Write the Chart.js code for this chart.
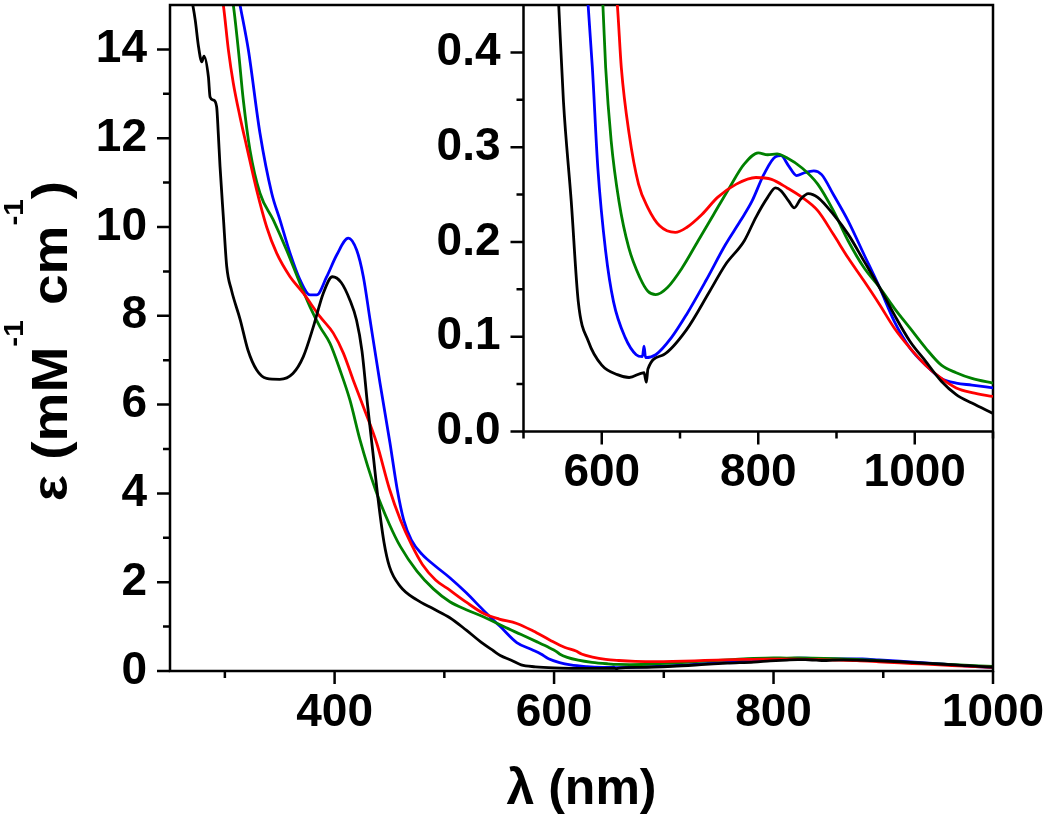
<!DOCTYPE html>
<html><head><meta charset="utf-8">
<script src="https://cdn.jsdelivr.net/npm/chart.js@4/dist/chart.umd.min.js"></script>
<style>
html,body{margin:0;padding:0;background:#fff;}
#wrap{position:relative;width:1050px;height:817px;overflow:hidden;}
#main{position:absolute;left:0;top:0;}
#inset{position:absolute;left:400px;top:0;}
</style></head><body>
<div id="wrap"><canvas id="main" width="1050" height="817"></canvas><canvas id="inset" width="650" height="500"></canvas></div>
<script>
// ---------- data (wavelength nm, epsilon mM^-1 cm^-1) ----------
const blackX = [250,262,270,273,276,279,281,285,286.5,289.5,292.5,294,295.6,298.6,301.7,306,314,321,329,338,350,362,371.5,380.6,389.7,398,406,414,420,425,430,435,440,445,450,460,475,490,505,520,535,545,551,561,570,583,600,620,635,654,657,659,679,708,738,758,782,797,812,822,829,839,846,854,864,876,896,915,935,955,974,994,1014,1034,1053,1073,1100];
const blackY = [17,16,15.1,14.66,14.06,13.72,13.85,13.38,12.93,12.86,12.71,12.11,11.36,10.23,9.11,8.58,7.91,7.23,6.78,6.59,6.57,6.70,7.08,7.75,8.51,8.88,8.75,8.35,7.9,7.2,6.0,4.9,3.8,2.9,2.35,1.9,1.6,1.4,1.2,0.92,0.62,0.45,0.349,0.243,0.137,0.095,0.070,0.060,0.057,0.062,0.052,0.066,0.081,0.107,0.148,0.176,0.201,0.226,0.247,0.257,0.254,0.243,0.236,0.245,0.251,0.247,0.229,0.208,0.180,0.152,0.123,0.095,0.074,0.053,0.039,0.030,0.019];

const redX = [280,298.6,303.2,307.7,313.8,319.9,329,338.1,347.2,359.4,371.5,386.7,398.8,408,417,426.2,438.4,450,460,470,480,492,505,520,535.5,550,566,581,596,610,620,625,635,647,659,674,694,708,728,748,772,797,817,837,856,876,896,915,935,955,974,994,1014,1034,1053,1073,1100];
const redY = [17.5,15.0,13.99,13.24,12.48,11.81,10.83,10.0,9.41,8.88,8.51,7.98,7.61,7.16,6.55,5.95,5.13,4.1,3.4,2.85,2.4,2.05,1.82,1.55,1.30,1.17,1.07,0.9,0.70,0.53,0.449,0.384,0.314,0.261,0.236,0.217,0.210,0.215,0.229,0.247,0.261,0.268,0.266,0.257,0.247,0.233,0.208,0.183,0.159,0.134,0.109,0.088,0.070,0.056,0.046,0.041,0.037];

const greenX = [290,307.7,312.3,316.8,322.9,332,344.1,356.3,368.5,377.6,386.7,395.8,404.9,414,423.2,437,450,460,475,490,505,520,535.5,554,570,585,596,601.5,605,612,622,634.5,649,659,669,684,703,723,743,763,782,800,812,824,836,856,876,896,915,935,955,974,994,1014,1034,1053,1073,1100];
const greenY = [17.5,15.0,13.99,12.86,11.73,10.76,10.16,9.48,8.73,8.2,7.75,7.38,6.78,6.1,5.2,4.1,3.3,2.8,2.25,1.85,1.56,1.38,1.22,1.0,0.82,0.65,0.52,0.449,0.384,0.307,0.243,0.194,0.162,0.148,0.1445,0.152,0.173,0.201,0.229,0.257,0.282,0.294,0.292,0.293,0.289,0.278,0.261,0.233,0.201,0.173,0.152,0.130,0.109,0.088,0.070,0.062,0.056,0.051];

const blueX = [300,313.8,321.4,332,342.7,350.2,359.4,368.5,377.6,383.7,392.8,401.9,412.5,420.1,426.2,432.3,441.4,450.5,457,463,470,480,492,505,520,535.5,551,566,580,588,595,605,615,630,644,652,654,656,669,689,708,733,758,777,792,807,822,829,839,849,859,871,881,896,915,935,955,974,994,1014,1034,1053,1073,1100];
const blueY = [16.8,15.0,13.99,12.11,10.76,10.16,9.41,8.81,8.47,8.47,8.88,9.37,9.75,9.48,8.88,7.91,6.48,5.13,4.1,3.4,2.95,2.62,2.36,2.1,1.76,1.37,1.0,0.64,0.48,0.384,0.278,0.19,0.137,0.099,0.081,0.079,0.090,0.078,0.081,0.099,0.123,0.159,0.197,0.222,0.243,0.271,0.290,0.291,0.280,0.270,0.273,0.275,0.271,0.250,0.222,0.187,0.152,0.116,0.088,0.070,0.056,0.051,0.049,0.046];

// ---------- tick values / labels ----------
const mainXTicks = [400,600,800,1000];
const mainXMinor = [300,500,700,900];
const mainYTicks = [0,2,4,6,8,10,12,14];
const mainYMinor = [1,3,5,7,9,11,13];
const insetXTicks = [600,800,1000];
const insetXMinor = [500,700,900,1100];
const insetYTicks = [0,0.1,0.2,0.3,0.4];
const insetYLabels = ['0.0','0.1','0.2','0.3','0.4'];
const insetYMinor = [0.05,0.15,0.25,0.35];
const xTitle = 'λ (nm)';
const yTitleParts = [['ε (mM',false],['-1',true],[' cm',false],['-1',true],[')',false]];

const FONT = "'Liberation Sans', Arial, Helvetica, sans-serif";

function pts(x,y){ return x.map((v,i)=>({x:v,y:y[i]})); }
function makeDatasets(){
  const list = [[blackX,blackY,'#000000'],[redX,redY,'#ff0000'],[greenX,greenY,'#008000'],[blueX,blueY,'#0000ff']];
  return list.map(([x,y,c])=>({data:pts(x,y),borderColor:c,backgroundColor:c,borderWidth:2.8,pointRadius:0,fill:false,cubicInterpolationMode:'monotone'}));
}
function noPad(s){ s.paddingTop=0; s.paddingBottom=0; s.paddingLeft=0; s.paddingRight=0; }

const frameTicks = {
  id:'frameTicks',
  afterDraw(chart,args,o){
    const {ctx, chartArea:a, scales:{x,y}} = chart;
    ctx.save();
    ctx.strokeStyle='#000'; ctx.lineWidth=2.5; ctx.lineCap='butt';
    ctx.beginPath();
    if (o.box){ ctx.rect(a.left,a.top,a.right-a.left,a.bottom-a.top); }
    else { ctx.moveTo(a.left,a.top); ctx.lineTo(a.left,a.bottom); ctx.lineTo(a.right,a.bottom); }
    ctx.stroke();
    ctx.beginPath();
    const tick = (vals,len,horiz)=>{
      for (const v of vals){
        if (horiz){ const p=x.getPixelForValue(v); ctx.moveTo(p,a.bottom); ctx.lineTo(p,a.bottom+len); }
        else { const p=y.getPixelForValue(v); ctx.moveTo(a.left,p); ctx.lineTo(a.left-len,p); }
      }
    };
    tick(o.xMajor,13,true); tick(o.xMinor,7,true);
    tick(o.yMajor,13,false); tick(o.yMinor,7,false);
    ctx.stroke();
    ctx.restore();
  }
};

const yTitlePlugin = {
  id:'yTitlePlugin',
  afterDraw(chart){
    const ctx = chart.ctx;
    const big = 'bold 50px '+FONT, small = 'bold 27px '+FONT;
    ctx.save();
    let total = 0;
    const widths = yTitleParts.map(([t,s])=>{ ctx.font = s?small:big; const w=ctx.measureText(t).width; total+=w; return w; });
    const cy = (chart.chartArea.top+chart.chartArea.bottom)/2 + 3;
    ctx.translate(67, cy);
    ctx.rotate(-Math.PI/2);
    ctx.scale(1.1,1);
    ctx.fillStyle='#000'; ctx.textBaseline='alphabetic'; ctx.textAlign='left';
    let cx = -total/2;
    yTitleParts.forEach(([t,s],i)=>{
      ctx.font = s?small:big;
      ctx.fillText(t, cx, s?-44:0);
      cx += widths[i];
    });
    ctx.restore();
  }
};

function tickFont(){ return {family:FONT, size:46, weight:'bold', lineHeight:1}; }

const mainChart = new Chart(document.getElementById('main'), {
  type:'line',
  data:{datasets:makeDatasets()},
  options:{
    responsive:false, animation:false, events:[],
    layout:{padding:{top:5,right:57,left:0,bottom:0}},
    plugins:{legend:{display:false},tooltip:{enabled:false},
      frameTicks:{box:true,xMajor:mainXTicks,xMinor:mainXMinor,yMajor:mainYTicks,yMinor:mainYMinor}},
    scales:{
      x:{type:'linear',min:250,max:1000,
        afterBuildTicks:s=>{s.ticks=mainXTicks.map(v=>({value:v}));},
        afterFit:s=>{s.height=146; noPad(s);},
        grid:{display:false,drawTicks:false}, border:{display:false},
        ticks:{color:'#000',font:tickFont(),padding:19,maxRotation:0,autoSkip:false,callback:v=>String(v)},
        title:{display:true,text:xTitle,color:'#000',font:{family:FONT,size:50,weight:'bold',lineHeight:1},padding:{top:0,bottom:2}}
      },
      y:{type:'linear',min:0,max:15,
        afterBuildTicks:s=>{s.ticks=mainYTicks.map(v=>({value:v}));},
        afterFit:s=>{s.width=170; noPad(s);},
        grid:{display:false,drawTicks:false}, border:{display:false},
        ticks:{color:'#000',font:tickFont(),padding:23,autoSkip:false,callback:v=>String(v)}
      }
    }
  },
  plugins:[frameTicks,yTitlePlugin]
});

const insetChart = new Chart(document.getElementById('inset'), {
  type:'line',
  data:{datasets:makeDatasets()},
  options:{
    responsive:false, animation:false, events:[],
    layout:{padding:{top:5,right:57,left:0,bottom:0}},
    plugins:{legend:{display:false},tooltip:{enabled:false},
      frameTicks:{box:false,xMajor:insetXTicks,xMinor:insetXMinor,yMajor:insetYTicks,yMinor:insetYMinor}},
    scales:{
      x:{type:'linear',min:500,max:1100,
        afterBuildTicks:s=>{s.ticks=insetXTicks.map(v=>({value:v}));},
        afterFit:s=>{s.height=68.5; noPad(s);},
        grid:{display:false,drawTicks:false}, border:{display:false},
        ticks:{color:'#000',font:tickFont(),padding:19,maxRotation:0,autoSkip:false,callback:v=>String(v)}
      },
      y:{type:'linear',min:0,max:0.45,
        afterBuildTicks:s=>{s.ticks=insetYTicks.map(v=>({value:v}));},
        afterFit:s=>{s.width=123.5; noPad(s);},
        grid:{display:false,drawTicks:false}, border:{display:false},
        ticks:{color:'#000',font:tickFont(),padding:23,autoSkip:false,callback:(v,i)=>insetYLabels[i]}
      }
    }
  },
  plugins:[frameTicks]
});
</script>
</body></html>
